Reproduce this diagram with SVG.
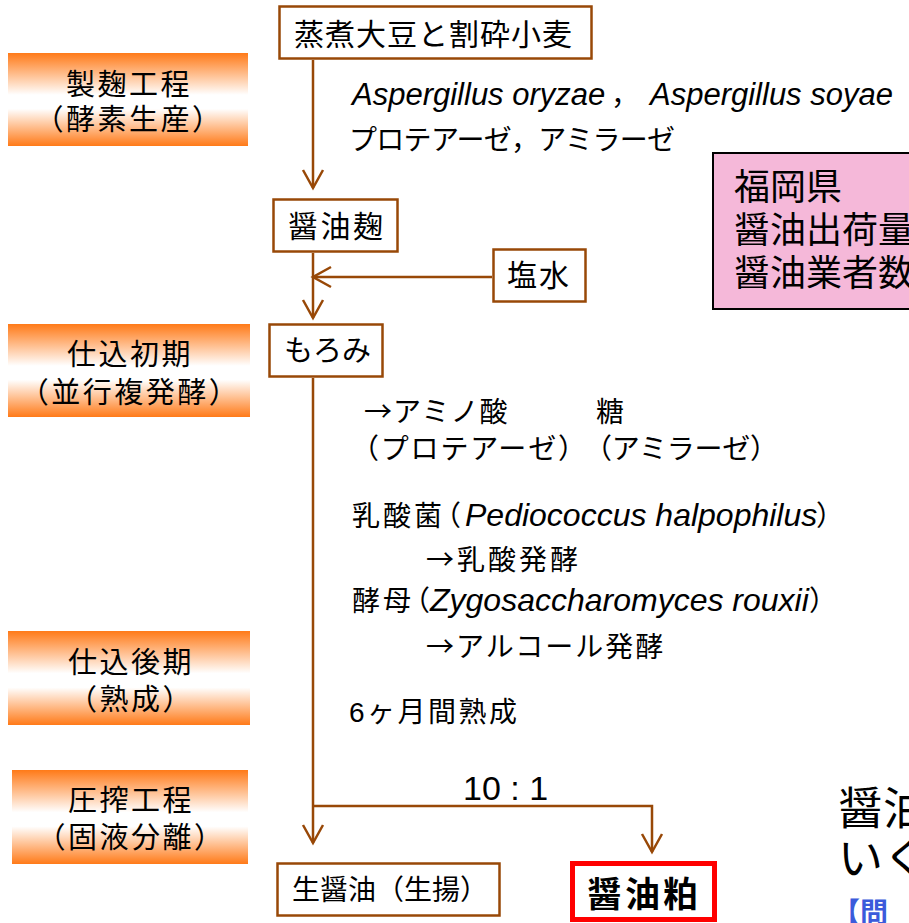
<svg xmlns="http://www.w3.org/2000/svg" width="909" height="923" viewBox="0 0 909 923">
  <defs>
    <linearGradient id="og" x1="0" y1="0" x2="0" y2="1">
      <stop offset="0" stop-color="#FF7A18"/>
      <stop offset="0.45" stop-color="#FFFFFF"/>
      <stop offset="0.6" stop-color="#FFFFFF"/>
      <stop offset="1" stop-color="#FF7A18"/>
    </linearGradient>
    <marker id="ah" markerUnits="userSpaceOnUse" markerWidth="26" markerHeight="26" viewBox="0 0 26 26" refX="21" refY="13" orient="auto">
      <path d="M3,3 L21,13 L3,23" fill="none" stroke="#984807" stroke-width="2.5"/>
    </marker>
    <style>
      .stage { fill: url(#og); }
      .node { fill: #FFFFFF; stroke: #984807; stroke-width: 2.5; }
      .jp { font-family: "Noto Sans CJK JP", sans-serif; fill: #000; }
      .lat { font-family: "Liberation Sans", "Noto Sans CJK JP", sans-serif; fill: #000; }
      .it { font-family: "Liberation Sans", sans-serif; font-style: italic; }
      .st { font-size: 29px; letter-spacing: 2.5px; text-anchor: middle; }
      .conn { fill: none; stroke: #984807; stroke-width: 2.5; }
      .ann { font-size: 28px; }
      .blue { font-family: "Noto Sans CJK JP", sans-serif; fill: #3B5BDB; font-weight: bold; }
    </style>
  </defs>

  <!-- stage labels -->
  <g id="stage-seikiku">
    <rect class="stage" x="8" y="53" width="240" height="93"/>
    <text class="jp st" x="129" y="95">製麹工程</text>
    <text class="jp st" x="129" y="130">（酵素生産）</text>
  </g>
  <g id="stage-shikomi-shoki">
    <rect class="stage" x="8" y="324" width="242" height="93"/>
    <text class="jp st" x="130" y="365">仕込初期</text>
    <text class="jp st" x="130" y="403">（並行複発酵）</text>
  </g>
  <g id="stage-shikomi-koki">
    <rect class="stage" x="8" y="631" width="242" height="94"/>
    <text class="jp st" x="131" y="673">仕込後期</text>
    <text class="jp st" x="131" y="710">（熟成）</text>
  </g>
  <g id="stage-assaku">
    <rect class="stage" x="12" y="770" width="236" height="94"/>
    <text class="jp st" x="131" y="811">圧搾工程</text>
    <text class="jp st" x="131" y="848">（固液分離）</text>
  </g>

  <!-- connectors -->
  <g id="connectors">
    <line class="conn" x1="313" y1="60" x2="313" y2="188" marker-end="url(#ah)"/>
    <line class="conn" x1="313" y1="253" x2="313" y2="318" marker-end="url(#ah)"/>
    <line class="conn" x1="492" y1="277" x2="313" y2="277" marker-end="url(#ah)"/>
    <line class="conn" x1="313" y1="378" x2="313" y2="843" marker-end="url(#ah)"/>
    <polyline class="conn" points="313,806 652,806 652,852" marker-end="url(#ah)"/>
    <text class="lat" x="463" y="800" font-size="34">10 : 1</text>
  </g>

  <!-- nodes -->
  <g id="node-raw">
    <rect class="node" x="279.5" y="6.5" width="312" height="52"/>
    <text class="jp" x="294" y="45" font-size="30" letter-spacing="1">蒸煮大豆と割砕小麦</text>
  </g>
  <g id="node-koji">
    <rect class="node" x="273.5" y="199.5" width="124" height="52"/>
    <text class="jp" x="288" y="237" font-size="30" letter-spacing="2.5">醤油麹</text>
  </g>
  <g id="node-brine">
    <rect class="node" x="493.5" y="249.5" width="92" height="52"/>
    <text class="jp" x="507" y="286" font-size="30" letter-spacing="2">塩水</text>
  </g>
  <g id="node-moromi">
    <rect class="node" x="269.5" y="324.5" width="113" height="52"/>
    <text class="jp" x="284" y="361" font-size="29">もろみ</text>
  </g>
  <g id="node-nama">
    <rect class="node" x="277.5" y="863.5" width="222" height="52"/>
    <text class="jp" x="292" y="900" font-size="28">生醤油（生揚）</text>
  </g>
  <g id="node-kasu">
    <rect x="572.5" y="863.5" width="142" height="56" fill="#FFFFFF" stroke="#FF0000" stroke-width="5"/>
    <text class="jp" x="587" y="907" font-size="35" font-weight="bold" letter-spacing="3">醤油粕</text>
  </g>

  <!-- annotations -->
  <g id="note-koji">
    <text class="it" x="352" y="105" font-size="31">Aspergillus oryzae</text>
    <text class="jp" x="611" y="105" font-size="28">，</text>
    <text class="it" x="650" y="105" font-size="31">Aspergillus soyae</text>
    <text class="jp" x="349" y="150" font-size="28" textLength="326" lengthAdjust="spacing">プロテアーゼ，アミラーゼ</text>
  </g>

  <g id="note-fukuoka">
    <rect x="713" y="153" width="210" height="156" fill="#F5B8D9" stroke="#000000" stroke-width="2"/>
    <text class="jp" x="734" y="200" font-size="36">福岡県</text>
    <text class="jp" x="734" y="243" font-size="36">醤油出荷量</text>
    <text class="jp" x="734" y="286" font-size="36">醤油業者数</text>
  </g>

  <g id="note-moromi">
    <text class="jp ann" x="364" y="422" letter-spacing="1">→アミノ酸</text>
    <text class="jp ann" x="596" y="422">糖</text>
    <text class="jp ann" x="351" y="459" textLength="235" lengthAdjust="spacing">（プロテアーゼ）</text>
    <text class="jp ann" x="584" y="459" textLength="194" lengthAdjust="spacing">（アミラーゼ）</text>
    <text class="jp ann" y="526"><tspan x="352" letter-spacing="3">乳酸菌</tspan><tspan x="433">（</tspan><tspan class="it" x="465" font-size="32">Pediococcus halpophilus</tspan><tspan x="816">）</tspan></text>
    <text class="jp ann" x="426" y="570" letter-spacing="3">→乳酸発酵</text>
    <text class="jp ann" y="611"><tspan x="352" letter-spacing="3">酵母</tspan><tspan x="402">（</tspan><tspan class="it" x="430" font-size="32">Zygosaccharomyces rouxii</tspan><tspan x="809">）</tspan></text>
    <text class="jp ann" x="426" y="657" letter-spacing="2">→アルコール発酵</text>
    <text class="lat ann" x="349" y="722" letter-spacing="2.5">6ヶ月間熟成</text>
  </g>

  <g id="note-bottom">
    <text class="jp" x="838" y="825" font-size="45">醤油</text>
    <text class="jp" x="838" y="875" font-size="45">いく</text>
    <text class="blue" x="832" y="923" font-size="28">【問</text>
  </g>
</svg>
